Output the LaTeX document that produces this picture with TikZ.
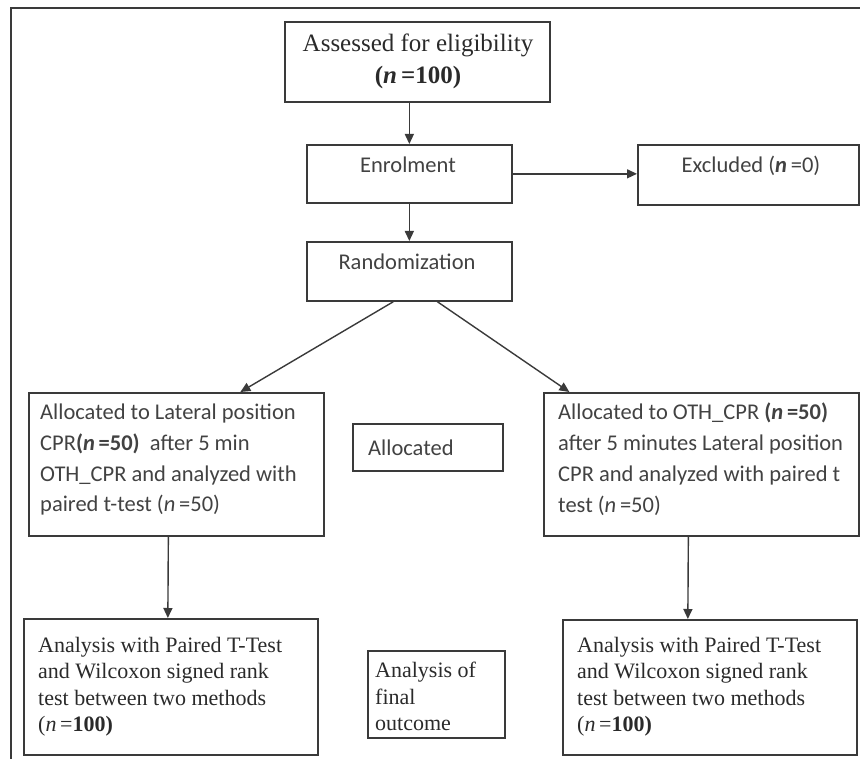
\documentclass[tikz,border=0pt]{standalone}
\usepackage{fontspec}
\setmainfont{Liberation Serif}
\newfontfamily\calib{Carlito}
\usetikzlibrary{arrows.meta}
\definecolor{linec}{HTML}{3A3A3A}
\definecolor{txts}{HTML}{2A2A2A}
\definecolor{txtc}{HTML}{424242}
\begin{document}
\begin{tikzpicture}[x=1pt,y=-1pt,
  box/.style={draw=linec, line width=1.7pt, inner sep=0pt, anchor=north west},
  arr/.style={draw=linec, line width=1.4pt, -{Triangle[length=10pt,width=9pt]}},
  sans/.style={font=\calib\fontsize{22.5}{30.7}\selectfont, text=txtc, inner sep=0pt, align=left},
  serif/.style={font=\fontsize{22}{26.5}\selectfont, text=txts, inner sep=0pt, align=left},
  frame/.style={draw=linec, line width=1.8pt}]
\useasboundingbox (0,0) rectangle (860,759);
% frame
\coordinate (fTL) at (11,8);
\coordinate (fTR) at (860,8);
\coordinate (fBL) at (11,759);
\draw[frame] (fTR) -- (fTL) -- (fBL);
% boxes
\node[box, minimum width=265pt, minimum height=80pt] (assess) at (284,21) {};
\node[box, minimum width=205pt, minimum height=58pt] (enrol) at (306,144) {};
\node[box, minimum width=205pt, minimum height=59pt] (rand) at (306,241) {};
\node[box, minimum width=221pt, minimum height=60pt] (excl) at (637,144) {};
\node[box, minimum width=295pt, minimum height=143pt] (lmid) at (28,392) {};
\node[box, minimum width=150pt, minimum height=47pt] (alloc) at (352,423) {};
\node[box, minimum width=315pt, minimum height=143pt] (rmid) at (543,392) {};
\node[box, minimum width=294pt, minimum height=136pt] (lbot) at (23,618) {};
\node[box, minimum width=137pt, minimum height=87pt] (outc) at (367,650) {};
\node[box, minimum width=294pt, minimum height=135pt] (rbot) at (562,619) {};
% texts
\node[serif, font=\fontsize{25}{32}\selectfont, align=center, anchor=north] (tassess) at (418,34)
  {Assessed for eligibility\\\textbf{(\textit{n}\,=100)}};
\node[sans, anchor=base] (tenrol) at (408,173) {Enrolment};
\node[sans, anchor=base] (trand) at (407,270) {Randomization};
\node[sans, anchor=base] (texcl) at (751,173) {Excluded (\textbf{\textit{n}}\,=0)};
\node[sans, anchor=base west] (talloc) at (368,455) {Allocated};
\node[sans, anchor=north west] (tlmid) at (40,404)
  {Allocated to Lateral position\\CPR\textbf{(\textit{n}\,=50)}\ \ after 5 min\\OTH\_CPR and analyzed with\\paired t-test (\textit{n}\,=50)};
\node[sans, anchor=north west] (trmid) at (558,403)
  {Allocated to OTH\_CPR \textbf{(\textit{n}\,=50)}\\after 5 minutes Lateral position\\CPR and analyzed with paired t\\test (\textit{n}\,=50)};
\node[serif, anchor=north west] (tlbot) at (38,637)
  {Analysis with Paired T-Test\\and Wilcoxon signed rank\\test between two methods\\(\textit{n}\,=\textbf{100)}};
\node[serif, anchor=north west] (trbot) at (577,637)
  {Analysis with Paired T-Test\\and Wilcoxon signed rank\\test between two methods\\(\textit{n}\,=\textbf{100)}};
\node[serif, anchor=north west] (toutc) at (375,662)
  {Analysis of\\final\\outcome};
% connectors
\draw[arr] (enrol.north |- assess.south) -- (enrol.north);
\draw[arr] (enrol.south) -- (rand.north);
\draw[arr] (enrol.east) -- (enrol.east -| excl.west);
\draw[arr] ([xshift=-16pt]rand.south) -- ([xshift=64pt]lmid.north);
\draw[arr] ([xshift=28pt]rand.south) -- ([xshift=-132pt]rmid.north);
\draw[arr] ([xshift=-8pt]lmid.south) -- ([xshift=-3pt]lbot.north);
\draw[arr] ([xshift=-13pt]rmid.south) -- ([xshift=-22pt]rbot.north);
\end{tikzpicture}
\end{document}
